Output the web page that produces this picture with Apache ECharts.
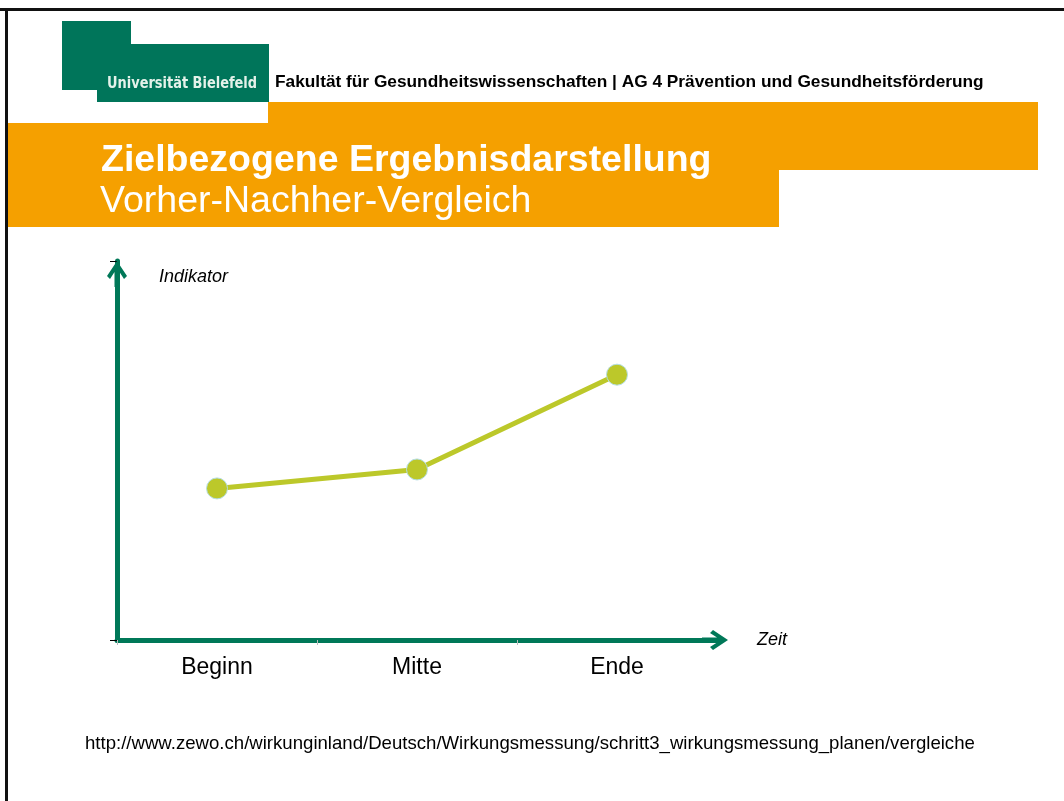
<!DOCTYPE html>
<html>
<head>
<meta charset="utf-8">
<script src="https://cdn.jsdelivr.net/npm/echarts@6/dist/echarts.min.js"></script>
<style>
html,body{margin:0;padding:0;background:#fff;}
#chart{width:1064px;height:801px;}
</style>
</head>
<body>
<div id="chart"></div>
<script>
// ---- data ----
const categories = ['Beginn', 'Mitte', 'Ende'];
const indikatorValues = [4, 4.5, 7];
const yTicks = [0, 10];
const logoText = 'Universität Bielefeld';
const facultyText = 'Fakultät für Gesundheitswissenschaften | AG 4 Prävention und Gesundheitsförderung';
const titleText = 'Zielbezogene Ergebnisdarstellung';
const subtitleText = 'Vorher-Nachher-Vergleich';
const sourceText = 'http://www.zewo.ch/wirkunginland/Deutsch/Wirkungsmessung/schritt3_wirkungsmessung_planen/vergleiche';

const FONT = '"Liberation Sans", Arial, Helvetica, sans-serif';
const GREEN = '#00755A';
const AXIS_GREEN = '#007858';
const ORANGE = '#F5A000';
const LIME = '#BCC82A';
const ARROW = 'path://M10,0 L20,15 L17,18 L12.5,11 L12.5,26 L7.5,26 L7.5,11 L3,18 L0,15 Z';

const chart = echarts.init(document.getElementById('chart'), null, {renderer: 'canvas'});

const option = {
  backgroundColor: '#ffffff',
  animation: false,
  grid: {left: 117, right: 1064 - 717, top: 261, bottom: 801 - 640, containLabel: false},
  xAxis: {
    type: 'category',
    data: categories,
    boundaryGap: true,
    name: 'Zeit',
    nameLocation: 'end',
    nameGap: 40,
    nameTextStyle: {fontFamily: FONT, fontSize: 18, fontStyle: 'italic', color: '#000', align: 'left', verticalAlign: 'middle', padding: [0, 0, 6, 0]},
    axisLine: {show: true, lineStyle: {color: AXIS_GREEN, width: 5}, symbol: ['none', ARROW], symbolSize: [20, 26], symbolOffset: [0, -2]},
    axisTick: {show: true, length: 5, lineStyle: {color: '#BBBBBB', width: 1}},
    axisLabel: {fontFamily: FONT, fontSize: 23, color: '#000', margin: 16},
    splitLine: {show: false}
  },
  yAxis: {
    type: 'value',
    min: yTicks[0],
    max: yTicks[1],
    interval: 10,
    name: 'Indikator',
    nameLocation: 'end',
    nameGap: 0,
    nameTextStyle: {fontFamily: FONT, fontSize: 18, fontStyle: 'italic', color: '#000', align: 'left', verticalAlign: 'top', padding: [7, 0, 0, 42]},
    axisLine: {show: true, lineStyle: {color: AXIS_GREEN, width: 5}, symbol: ['none', ARROW], symbolSize: [20, 26], symbolOffset: [0, -13]},
    axisTick: {show: true, length: 7, lineStyle: {color: '#000', width: 1}},
    axisLabel: {show: false},
    splitLine: {show: false}
  },
  series: [{
    type: 'line',
    data: indikatorValues,
    symbol: 'circle',
    symbolSize: 21,
    lineStyle: {color: LIME, width: 5},
    itemStyle: {color: LIME, borderColor: '#B4DDE2', borderWidth: 1},
    z: 5
  }],
  graphic: [
    // slide frame
    {type: 'rect', shape: {x: 0, y: 8, width: 1064, height: 3}, style: {fill: '#111'}, silent: true},
    {type: 'rect', shape: {x: 5, y: 8, width: 3, height: 793}, style: {fill: '#111'}, silent: true},
    // logo
    {type: 'rect', shape: {x: 62, y: 21, width: 69, height: 24}, style: {fill: GREEN}, silent: true},
    {type: 'rect', shape: {x: 62, y: 44, width: 207, height: 46}, style: {fill: GREEN}, silent: true},
    {type: 'rect', shape: {x: 97, y: 89, width: 172, height: 13}, style: {fill: GREEN}, silent: true},
    {type: 'text', x: 107, y: 84, scaleX: 0.9, style: {text: logoText, fill: '#E4F2EA', font: 'bold 16px "DejaVu Sans Condensed", ' + FONT, verticalAlign: 'middle', align: 'left'}, silent: true},
    {type: 'text', x: 275, y: 82, style: {text: facultyText, fill: '#000', font: 'bold 17.3px ' + FONT, verticalAlign: 'middle', align: 'left'}, silent: true},
    // orange title bands
    {type: 'rect', shape: {x: 268, y: 102, width: 770, height: 68}, style: {fill: ORANGE}, silent: true},
    {type: 'rect', shape: {x: 8, y: 123, width: 771, height: 104}, style: {fill: ORANGE}, silent: true},
    {type: 'text', x: 101, y: 161, style: {text: titleText, fill: '#fff', font: 'bold 37.5px ' + FONT, verticalAlign: 'middle', align: 'left'}, silent: true},
    {type: 'text', x: 100, y: 202, style: {text: subtitleText, fill: '#fff', font: '37.5px ' + FONT, verticalAlign: 'middle', align: 'left'}, silent: true},
    // source
    {type: 'text', x: 85, y: 744, style: {text: sourceText, fill: '#000', font: '18.6px ' + FONT, verticalAlign: 'middle', align: 'left'}, silent: true}
  ]
};
chart.setOption(option);
</script>
</body>
</html>
